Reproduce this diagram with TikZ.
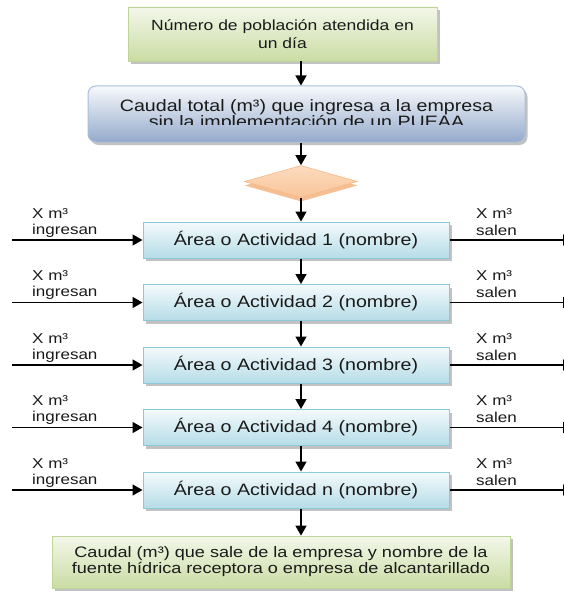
\documentclass[tikz,border=0pt]{standalone}
\usepackage{fontspec}
\setmainfont[FakeStretch=1.19]{Liberation Sans}
\usetikzlibrary{arrows.meta,shapes.geometric,shadows}
\definecolor{grnT}{HTML}{F3F7EA}
\definecolor{grnD}{HTML}{CADCA3}
\definecolor{grnB}{HTML}{BFD598}
\definecolor{bluT}{HTML}{F7F9FC}
\definecolor{bluD}{HTML}{94AACB}
\definecolor{bluB}{HTML}{A9BEDA}
\definecolor{cyT}{HTML}{F4FAFC}
\definecolor{cyD}{HTML}{B5DCE7}
\definecolor{cyB}{HTML}{8CC8D8}
\definecolor{orT}{HTML}{FCDCBE}
\definecolor{orD}{HTML}{F9C49A}
\definecolor{orB}{HTML}{F6B887}
\definecolor{orS}{HTML}{F3AE78}
\definecolor{txt}{HTML}{1A1A1A}
\begin{document}
\begin{tikzpicture}[x=1pt,y=-1pt,
 arr/.style={line width=1.5pt,-{Triangle[length=10pt,width=11pt]}},
 shad/.style={drop shadow={shadow xshift=2.5pt,shadow yshift=-3pt,fill=black!40,opacity=0.6}},
 greenbox/.style={draw=grnB,line width=0.8pt,top color=grnT,bottom color=grnD,shad,inner sep=0,align=center,text=txt},
 bluebox/.style={draw=bluB,line width=1pt,top color=bluT,bottom color=bluD,shad,inner sep=0,rounded corners=8pt},
 actbox/.style={draw=cyB,line width=1pt,top color=cyT,bottom color=cyD,shad,minimum width=306pt,minimum height=36pt,inner sep=0,text=txt,font=\fontsize{16.5}{18}\selectfont},
 lbl/.style={anchor=base west,inner sep=0,text=txt,font=\fontsize{14.3}{15}\selectfont}
]
\useasboundingbox (0,0) rectangle (564,591);
\coordinate (ax) at (301,0);

% top box
\node[greenbox,minimum width=309pt,minimum height=54pt,font=\fontsize{14.7}{18}\selectfont] (top) at (282.5,34)
  {Número de población atendida en\\un día};

% caudal total box
\node[bluebox,minimum width=437pt,minimum height=56pt] (b2) at (306.5,114) {};
\begin{scope}
  \clip (88,86) rectangle (525,124);
  \node[inner sep=0,align=center,text=txt,font=\fontsize{16.5}{16}\selectfont] (b2t) at (306.5,115)
    {Caudal total (m³) que ingresa a la empresa\\sin la implementación de un PUEAA};
\end{scope}

% diamond
\node[diamond,aspect=3.65,minimum width=113pt,minimum height=32pt,inner sep=0,
      draw=orB,line width=0.6pt,top color=orT,bottom color=orD,
      drop shadow={shadow xshift=0pt,shadow yshift=-4pt,fill=orS,opacity=0.8}] (dia) at (301,181.5) {};

\draw[arr] (top.south -| ax) -- (b2.north -| ax);
\draw[arr] (b2.south -| ax) -- (dia.north -| ax);

% activity rows
\foreach \i/\y/\t in {1/240/1,2/302.5/2,3/365/3,4/427.5/4,5/490/n}{
  \node[actbox] (a\i) at (296,\y) {Área o Actividad \t\ (nombre)};
  \coordinate (li\i) at (12,\y);
  \coordinate (ro\i) at (573,\y);
  \draw[arr] (li\i) -- (a\i.west);
  \draw[arr] (a\i.east) -- (ro\i);
  \node[lbl] (xi\i) at (32,\y-22) {X m³};
  \node[lbl] (in\i) at (32,\y-6) {ingresan};
  \node[lbl] (xo\i) at (476,\y-22) {X m³};
  \node[lbl] (sa\i) at (476,\y-5) {salen};
}

\draw[arr] (dia.south -| ax) -- (a1.north -| ax);
\foreach \i/\j in {1/2,2/3,3/4,4/5}{
  \draw[arr] (a\i.south -| ax) -- (a\j.north -| ax);
}

% bottom box
\node[greenbox,minimum width=458pt,minimum height=52pt,font=\fontsize{15.2}{16}\selectfont] (bot) at (281,562)
  {Caudal (m³) que sale de la empresa y nombre de la\\fuente hídrica receptora o empresa de alcantarillado};
\draw[arr] (a5.south -| ax) -- (bot.north -| ax);
\end{tikzpicture}
\end{document}
